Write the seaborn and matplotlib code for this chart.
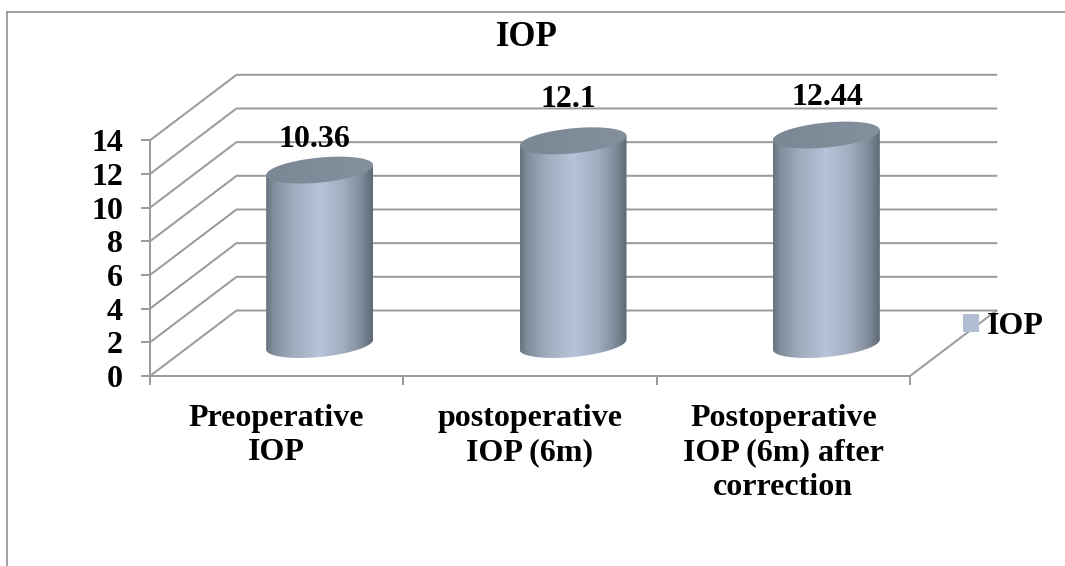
import numpy as np
import matplotlib
matplotlib.use("Agg")
import matplotlib.pyplot as plt
from matplotlib.colors import LinearSegmentedColormap
from matplotlib.lines import Line2D
from matplotlib.patches import Patch, Polygon
import seaborn as sns

categories = ["Preoperative\nIOP", "postoperative\nIOP (6m)", "Postoperative\nIOP (6m) after\ncorrection"]
values = [10.36, 12.1, 12.44]
y_ticks = [0, 2, 4, 6, 8, 10, 12, 14]
series_name = "IOP"
title = "IOP"

W, H = 1065, 566
sns.set_theme(style="white")
plt.rcParams["font.family"] = ["Liberation Serif", "DejaVu Sans"]
plt.rcParams["font.weight"] = "bold"
GRID = "#9b9b9b"
LW = 2.0 * 72 / 100
FS = 23

fig = plt.figure(figsize=(W / 100, H / 100), dpi=100, facecolor="white")


def px_axes(left, right, top, bottom):
    return fig.add_axes([left / W, 1 - bottom / H, (right - left) / W, (bottom - top) / H])


# front plane of the pseudo-3D box
ax = px_axes(150, 910, 140.3, 376)
ax.set_xlim(-0.5, 2.5)
ax.set_ylim(0, 14)
ax.patch.set_alpha(0)
px_x = 3 / 760          # category units per pixel
px_y = 14 / (376 - 140.3)  # value units per pixel
dx, dy = 86.5 * px_x, 65.5 * px_y

for t in y_ticks:
    ax.plot([-0.5, -0.5 + dx, 2.5 + dx], [t, t + dy, t + dy], color=GRID, lw=LW,
            clip_on=False, solid_joinstyle="miter", zorder=1)
ax.plot([2.5, 2.5 + dx], [0, dy], color=GRID, lw=LW, clip_on=False, zorder=1)

for s in ["top", "right"]:
    ax.spines[s].set_visible(False)
for s in ["left", "bottom"]:
    ax.spines[s].set_color(GRID)
    ax.spines[s].set_linewidth(LW)
ax.set_yticks(y_ticks)
ax.set_xticks([-0.5, 0.5, 1.5, 2.5])
ax.set_xticklabels([])
ax.set_xticks(range(len(categories)), labels=categories, minor=True)
ax.tick_params(axis="y", length=6.5, width=LW, color=GRID, pad=13, labelsize=FS, left=True)
ax.tick_params(axis="x", which="major", length=6.5, width=LW, color=GRID, bottom=True)
ax.tick_params(axis="x", which="minor", length=0, pad=20, labelsize=FS, bottom=False)
for lab in ax.get_xticklabels(minor=True):
    lab.set_fontweight("bold")
    lab.set_linespacing(1.25)
    lab.set_color("black")
    lab.set_verticalalignment("top")
for lab in ax.get_yticklabels():
    lab.set_fontweight("bold")
    lab.set_color("black")

# cylinders stand half-way into the depth of the box
ax_bar = px_axes(150 + 43, 910 + 43, 140.3 - 31.5, 376 - 31.5)
ax_bar.patch.set_alpha(0)
bar_width = 107 * px_x
sns.barplot(x=categories, y=values, ax=ax_bar, width=bar_width, color="#b0bdd2", saturation=1)
ax_bar.set_xlim(-0.5, 2.5)
ax_bar.set_ylim(0, 14)
ax_bar.axis("off")

side = LinearSegmentedColormap.from_list(
    "side",
    [(0, "#667380"), (0.07, "#818e9c"), (0.25, "#a0adbf"), (0.5, "#b6c3d8"),
     (0.72, "#a2afc1"), (0.88, "#838f9e"), (1, "#5f6a76")],
)
cap = LinearSegmentedColormap.from_list("cap", ["#7a8794", "#85909d"])
grad = np.linspace(0, 1, 256)[None, :]
t = np.linspace(0, 2 * np.pi, 200)
semi_minor = 12.5 * px_y
shear = 5.0 * px_y

label_offsets = [(-5, 31), (-5, 41), (1, 38)]

for i, (bar, v) in enumerate(zip(ax_bar.patches, values)):
    cx = bar.get_x() + bar.get_width() / 2
    a = bar.get_width() / 2
    h = bar.get_height()
    ex, ey = cx + a * np.cos(t), semi_minor * np.sin(t) + shear * np.cos(t)
    # lower half of the base, then the top ellipse's centre line
    lower = np.sin(t) <= 0
    order = np.argsort(ex[lower])
    bx, by = ex[lower][order], ey[lower][order]
    body_x = np.r_[bx, cx + a, cx - a]
    body_y = np.r_[by, h + shear, h - shear]
    body = Polygon(np.c_[body_x, body_y], closed=True, transform=ax_bar.transData)
    bar.set_visible(False)
    im = ax_bar.imshow(grad, cmap=side, aspect="auto", extent=[cx - a, cx + a, -2, h + 2],
                       zorder=3, interpolation="bilinear")
    im.set_clip_box(fig.bbox)
    im.set_clip_path(body)
    top = Polygon(np.c_[ex, h + ey], closed=True, transform=ax_bar.transData)
    im2 = ax_bar.imshow(grad, cmap=cap, aspect="auto",
                        extent=[cx - a, cx + a, h - 2, h + 2], zorder=4, interpolation="bilinear")
    im2.set_clip_box(fig.bbox)
    im2.set_clip_path(top)
    ax_bar.annotate(f"{v:g}", (cx, h), xytext=label_offsets[i], textcoords="offset pixels",
                    ha="center", va="center", fontsize=FS, fontweight="bold", color="black",
                    zorder=5, annotation_clip=False)
ax_bar.set_xlim(-0.5, 2.5)
ax_bar.set_ylim(0, 14)

fig.suptitle(title, x=527 / W, y=1 - 38 / H, fontsize=25, fontweight="bold", color="black",
             va="center", ha="center")

fig.legend(handles=[Patch(facecolor="#b0bdd2", edgecolor="none", label=series_name)],
           loc="center left", bbox_to_anchor=(963 / W, 1 - 327 / H), frameon=False,
           fontsize=FS, handlelength=0.5, handleheight=0.5, handletextpad=0.25,
           borderpad=0, borderaxespad=0, labelcolor="black")

for xs, ys in [([7, 7], [12, H]), ([7, W], [12, 12])]:
    fig.add_artist(Line2D(np.array(xs) / W, 1 - np.array(ys) / H, color="#8c8c8c", lw=LW * 0.8))

fig.savefig("out.png", dpi=100, facecolor="white")
